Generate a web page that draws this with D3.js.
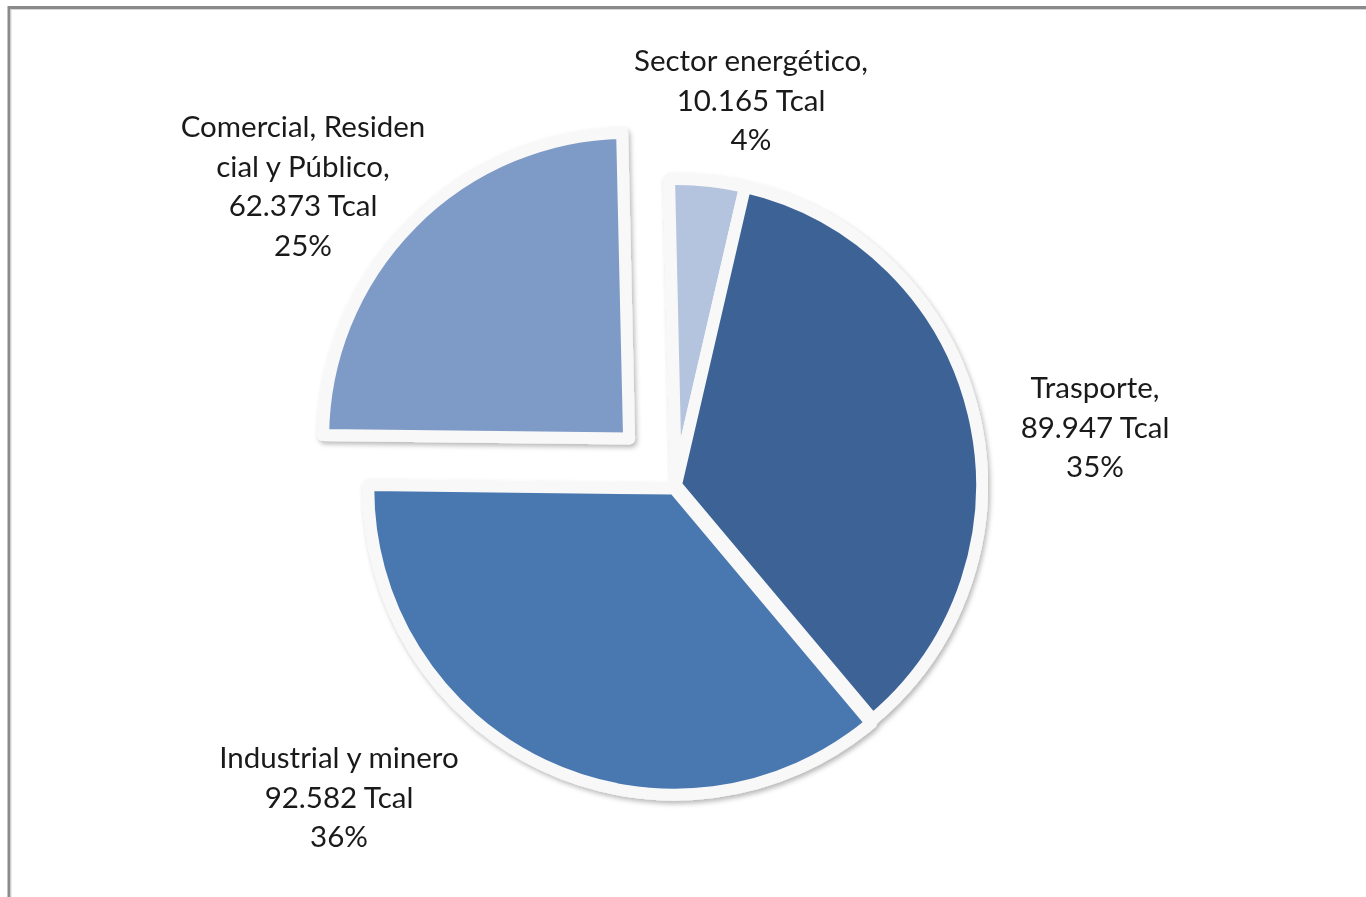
<!DOCTYPE html>
<html>
<head>
<meta charset="utf-8">
<script src="https://cdn.jsdelivr.net/npm/d3@7"></script>
<style>
  html, body { margin: 0; padding: 0; background: #ffffff; }
  svg { display: block; }
  text { font-variant-ligatures: none; font-feature-settings: "liga" 0; }
</style>
</head>
<body>
<svg id="chart" width="1366" height="897"></svg>
<script>
// ---- data ----
const categories = ["Sector energético", "Trasporte", "Industrial y minero", "Comercial, Residencial y Público"];
const valuesTcal = [10.165, 89.947, 92.582, 62.373];
const nameLines = [["Sector energético,"], ["Trasporte,"], ["Industrial y minero"], ["Comercial, Residen", "cial y Público,"]];
const valueLabels = ["10.165 Tcal", "89.947 Tcal", "92.582 Tcal", "62.373 Tcal"];
const percentLabels = ["4%", "35%", "36%", "25%"];
const sliceColors = ["#b4c3de", "#3c6396", "#4877b0", "#7e9ac7"];

// ---- layout ----
const W = 1366, H = 897;
const center = { x: 676, y: 485 };
const radius = 306;
const startDeg = -1.3;
const explode = [0, 0, 4, 66];
const labelAnchors = [[751, 61], [1095, 388], [339, 758], [303, 127]];
const lineGap = 39.5;

const svg = d3.select("#chart");

const defs = svg.append("defs");
const f = defs.append("filter").attr("id", "shadow")
  .attr("x", "-10%").attr("y", "-10%").attr("width", "120%").attr("height", "120%");
f.append("feDropShadow").attr("dx", 2).attr("dy", 3).attr("stdDeviation", 2.5)
  .attr("flood-color", "#000").attr("flood-opacity", 0.28);

// frame
svg.append("rect").attr("x", 9).attr("y", 7.5).attr("width", W + 20).attr("height", H + 20)
  .attr("fill", "none").attr("stroke", "#8a8a8a").attr("stroke-width", 3);
svg.append("rect").attr("x", 11).attr("y", 9.5).attr("width", W + 20).attr("height", H + 20)
  .attr("fill", "none").attr("stroke", "#d6d6d6").attr("stroke-width", 1);

const pie = d3.pie().sort(null).value(d => d)
  .startAngle(startDeg * Math.PI / 180)
  .endAngle(startDeg * Math.PI / 180 + 2 * Math.PI);
const arcs = pie(valuesTcal);
const arc = d3.arc().innerRadius(0).outerRadius(radius);

const g = svg.append("g").attr("transform", `translate(${center.x},${center.y})`)
  .attr("filter", "url(#shadow)");

g.selectAll("path").data(arcs).enter().append("path")
  .attr("d", arc)
  .attr("transform", (d, i) => {
    const mid = (d.startAngle + d.endAngle) / 2;
    return `translate(${Math.sin(mid) * explode[i]},${-Math.cos(mid) * explode[i]})`;
  })
  .attr("fill", (d, i) => sliceColors[i])
  .attr("stroke", "#f8f8f8")
  .attr("stroke-width", 12)
  .attr("stroke-linejoin", "round");

// labels
const labels = svg.append("g")
  .attr("font-family", "Lato, 'Open Sans', sans-serif")
  .attr("font-size", 29.5)
  .attr("fill", "#1a1a1a")
  .attr("text-anchor", "middle");

categories.forEach((c, i) => {
  const lines = nameLines[i].concat([valueLabels[i], percentLabels[i]]);
  const [lx, ly] = labelAnchors[i];
  const t = labels.append("text").attr("x", lx).attr("y", ly).attr("dy", "0.35em");
  lines.forEach((ln, k) => {
    t.append("tspan").attr("x", lx).attr("y", ly + k * lineGap).attr("dy", "0.35em").text(ln);
  });
});
</script>
</body>
</html>
